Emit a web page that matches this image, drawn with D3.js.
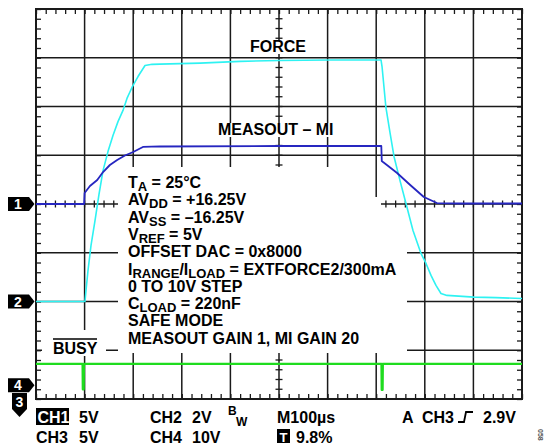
<!DOCTYPE html>
<html>
<head>
<meta charset="utf-8">
<script src="https://cdn.jsdelivr.net/npm/d3@7"></script>
<style>
  html, body { margin: 0; padding: 0; background: #fff; }
  svg { display: block; }
  text { font-family: "Liberation Sans", Arial, sans-serif; font-weight: bold; fill: #000; }
</style>
</head>
<body>
<svg id="scope" width="549" height="446"></svg>
<script>
// ---- Trace data: time in µs from the left edge of the screen, level in volts ----
// CH2 – FORCE (2 V/div)
const forceTime = [0, 100.8, 102.9, 107, 113.2, 121.4, 129.6, 137.9, 148.1, 158.4, 168.7, 179, 187.2, 197.5, 209.9, 224.3, 238.7, 255.1, 337.4, 419.8, 500, 605, 709.9,
                   712, 720, 728.4, 736.6, 749, 761.3, 775.7, 792.2, 802.5, 812.8, 823, 833.3, 845.7, 901.2, 946.5, 1000];
const forceVolts = [0, 0, 0.45, 1.27, 2.30, 3.32, 4.39, 5.37, 6.15, 6.81, 7.38, 7.84, 8.33, 8.78, 9.23, 9.68, 9.73, 9.74, 9.78, 9.85, 9.89, 9.91, 9.91,
                    9.64, 7.96, 6.93, 5.95, 4.96, 4.02, 2.91, 1.97, 1.56, 1.07, 0.66, 0.33, 0.25, 0.18, 0.16, 0.12];

// CH1 – MEASOUT – MI (5 V/div)
const measTime = [0, 99, 100, 111, 126, 138, 152, 167, 183, 200, 220, 255, 500, 710.5, 711.5, 714, 722, 743, 770, 798, 825, 872, 1000];
const measVolts = [0, 0, 1.13, 1.85, 2.46, 3.28, 4.0, 4.51, 4.97, 5.33, 5.85, 5.9, 5.95, 5.95, 4.4, 4.3, 4.0, 3.18, 1.95, 0.72, 0.1, 0.05, 0.05];

// CH4 – BUSY (10 V/div)
const busyTime = [0, 96, 96.5, 98, 98.5, 711, 711.5, 713, 713.5, 1000];
const busyVolts = [4.4, 4.4, -0.8, -0.8, 4.4, 4.4, -0.9, -0.9, 4.4, 4.4];

// ---- Scope settings ----
const timePerDiv = 100;          // M100µs
const xDivisions = 10;
const yDivisions = 8;
const channelVoltsPerDiv = { ch1: 5, ch2: 2, ch4: 10 };
const channelOffsetDiv = { ch1: 0, ch2: -2, ch4: -3.72 };

// ---- Annotation text ----
const conditionLines = [
  [["T"], ["A", 1], [" = 25°C"]],
  [["AV"], ["DD", 1], [" = +16.25V"]],
  [["AV"], ["SS", 1], [" = –16.25V"]],
  [["V"], ["REF", 1], [" = 5V"]],
  [["OFFSET DAC = 0x8000"]],
  [["I"], ["RANGE", 1], ["/I"], ["LOAD", 1], [" = EXTFORCE2/300mA"]],
  [["0 TO 10V STEP"]],
  [["C"], ["LOAD", 1], [" = 220nF"]],
  [["SAFE MODE"]],
  [["MEASOUT GAIN 1, MI GAIN 20"]]
];
const statusRow1 = ["5V", "CH2", "2V", "M100µs", "A", "CH3", "2.9V"];
const statusRow2 = ["CH3", "5V", "CH4", "10V", "9.8%"];

// ---- Layout ----
const svg = d3.select("#scope");
const plotLeft = 36, plotRight = 522, plotTop = 9, plotBottom = 399;
const xDiv = d3.scaleLinear().domain([0, xDivisions]).range([plotLeft, plotRight]);
const yDiv = d3.scaleLinear().domain([-yDivisions / 2, yDivisions / 2]).range([plotBottom, plotTop]);
const xTime = d3.scaleLinear().domain([0, timePerDiv * xDivisions]).range([plotLeft, plotRight]);
const yChan = ch => v => yDiv(channelOffsetDiv[ch] + v / channelVoltsPerDiv[ch]);

const gridColor = "#1a1a1a";
const grid = svg.append("g");

// major grid lines
grid.append("g").selectAll("line").data(d3.range(1, xDivisions)).join("line")
  .attr("x1", d => xDiv(d)).attr("x2", d => xDiv(d))
  .attr("y1", plotTop).attr("y2", plotBottom)
  .attr("stroke", gridColor).attr("stroke-width", 1.5);
grid.append("g").selectAll("line").data(d3.range(-yDivisions / 2 + 1, yDivisions / 2)).join("line")
  .attr("x1", plotLeft).attr("x2", plotRight)
  .attr("y1", d => yDiv(d)).attr("y2", d => yDiv(d))
  .attr("stroke", gridColor).attr("stroke-width", 1.5);

// minor ticks on the border and on the centre axes
const minorX = d3.range(0, xDivisions * 5 + 1).map(i => i / 5);
const minorY = d3.range(0, yDivisions * 5 + 1).map(i => i / 5 - yDivisions / 2);
function tickAxis(axis, transform) {
  const g = grid.append("g").attr("transform", transform).call(axis);
  g.select(".domain").remove();
  g.selectAll("line").attr("stroke", gridColor).attr("stroke-width", 1.3);
  g.selectAll("text").remove();
  return g;
}
tickAxis(d3.axisBottom(xDiv).tickValues(minorX).tickSize(5).tickSizeOuter(0).tickFormat(""), `translate(0,${plotTop})`);
tickAxis(d3.axisTop(xDiv).tickValues(minorX).tickSize(5).tickSizeOuter(0).tickFormat(""), `translate(0,${plotBottom})`);
tickAxis(d3.axisRight(yDiv).tickValues(minorY).tickSize(5).tickSizeOuter(0).tickFormat(""), `translate(${plotLeft},0)`);
tickAxis(d3.axisLeft(yDiv).tickValues(minorY).tickSize(5).tickSizeOuter(0).tickFormat(""), `translate(${plotRight},0)`);
// centre axes: ticks crossing the line
const cx = xDiv(xDivisions / 2), cy = yDiv(0);
grid.append("g").selectAll("line").data(minorX).join("line")
  .attr("x1", d => xDiv(d)).attr("x2", d => xDiv(d))
  .attr("y1", cy - 3.5).attr("y2", cy + 3.5)
  .attr("stroke", gridColor).attr("stroke-width", 1.3);
grid.append("g").selectAll("line").data(minorY).join("line")
  .attr("x1", cx - 3.5).attr("x2", cx + 3.5)
  .attr("y1", d => yDiv(d)).attr("y2", d => yDiv(d))
  .attr("stroke", gridColor).attr("stroke-width", 1.3);

// white panels behind the annotations
const panel = svg.append("g").attr("fill", "#fff");
panel.append("path").attr("d",
  "M118,167 L372,167 L372,197 L381,197 L381,228 L407,228 L407,353 L118,353 Z");
panel.append("rect").attr("x", 42).attr("y", 330).attr("width", 64).attr("height", 26);

// frame
svg.append("rect").attr("x", plotLeft).attr("y", plotTop)
  .attr("width", plotRight - plotLeft).attr("height", plotBottom - plotTop)
  .attr("fill", "none").attr("stroke", gridColor).attr("stroke-width", 2);

// ---- Traces ----
function trace(times, volts, ch, color, width) {
  const pts = times.map((t, i) => [xTime(t), yChan(ch)(volts[i])]);
  svg.append("path")
    .attr("d", d3.line()(pts))
    .attr("fill", "none").attr("stroke", color).attr("stroke-width", width)
    .attr("stroke-linejoin", "round");
}
trace(forceTime, forceVolts, "ch2", "#2ef2f2", 1.6);
trace(measTime, measVolts, "ch1", "#2626c0", 1.8);
trace(busyTime, busyVolts, "ch4", "#1fdc1f", 2.4);

// ---- Trace labels ----
function label(txt, x, y) {
  const t = svg.append("text").attr("x", x).attr("y", y).attr("font-size", 16).text(txt);
  const b = t.node().getBBox();
  svg.insert("rect", () => t.node())
    .attr("x", b.x - 1).attr("y", b.y + 2).attr("width", b.width + 2).attr("height", b.height - 3)
    .attr("fill", "#fff");
}
label("FORCE", 250, 52);
label("MEASOUT – MI", 218, 135);

// conditions block, with subscripts
const block = svg.append("g");
conditionLines.forEach((segs, i) => {
  const t = block.append("text").attr("x", 128).attr("y", 188 + i * 17.3).attr("font-size", 16);
  let prevSub = false;
  segs.forEach(s => {
    const isSub = !!s[1];
    const sp = t.append("tspan").text(s[0]);
    if (isSub) sp.attr("font-size", 13);
    if (isSub && !prevSub) sp.attr("dy", 3);
    if (!isSub && prevSub) sp.attr("dy", -3);
    prevSub = isSub;
  });
});

// BUSY with overline
svg.append("text").attr("x", 53).attr("y", 354).attr("font-size", 16).text("BUSY");
svg.append("line").attr("x1", 53).attr("x2", 97).attr("y1", 339).attr("y2", 339)
  .attr("stroke", "#000").attr("stroke-width", 1.3);

// ---- Channel markers ----
const markers = svg.append("g");
function sideMarker(num, y) {
  markers.append("path")
    .attr("d", `M8,${y - 7} L29,${y - 7} L34.5,${y} L29,${y + 7} L8,${y + 7} Z`).attr("fill", "#000");
  markers.append("text").attr("x", 18).attr("y", y + 5).attr("text-anchor", "middle")
    .attr("font-size", 14).style("fill", "#fff").text(num);
}
sideMarker("1", yChan("ch1")(0));
sideMarker("2", yChan("ch2")(0));
sideMarker("4", yChan("ch4")(0));
markers.append("path").attr("d", "M12,393 L27,393 L27,409 L19.5,417 L12,409 Z").attr("fill", "#000");
markers.append("text").attr("x", 19.5).attr("y", 407).attr("text-anchor", "middle")
  .attr("font-size", 14).style("fill", "#fff").text("3");

// ---- Status readout ----
const status = svg.append("g");
status.append("rect").attr("x", 36).attr("y", 408).attr("width", 33).attr("height", 17).attr("fill", "#000");
status.append("text").attr("x", 37.5).attr("y", 423).attr("font-size", 16).style("fill", "#fff").text("CH1");
const r1y = 423, r2y = 443;
const r1x = [79, 150, 192, 277, 402, 422, 483];
statusRow1.forEach((s, i) => status.append("text").attr("x", r1x[i]).attr("y", r1y).attr("font-size", 16).text(s));
status.append("text").attr("x", 228).attr("y", 415).attr("font-size", 12).text("B");
status.append("text").attr("x", 236).attr("y", 426).attr("font-size", 12).text("W");
// trigger slope symbol
status.append("path").attr("d", `M458,${r1y - 1} L464,${r1y - 1} L466,${r1y - 11} L473,${r1y - 11}`)
  .attr("fill", "none").attr("stroke", "#000").attr("stroke-width", 1.8);
const r2x = [36, 79, 150, 192, 296];
statusRow2.forEach((s, i) => status.append("text").attr("x", r2x[i]).attr("y", r2y).attr("font-size", 16).text(s));
status.append("rect").attr("x", 277).attr("y", 429).attr("width", 13).attr("height", 14).attr("fill", "#000");
status.append("text").attr("x", 283.5).attr("y", 441.5).attr("text-anchor", "middle")
  .attr("font-size", 13).style("fill", "#fff").text("T");

// figure number along the right edge
svg.append("text").attr("transform", "translate(538,429) rotate(90)")
  .attr("font-size", 7).attr("font-weight", "normal").style("fill", "#555").text("058");
</script>
</body>
</html>
